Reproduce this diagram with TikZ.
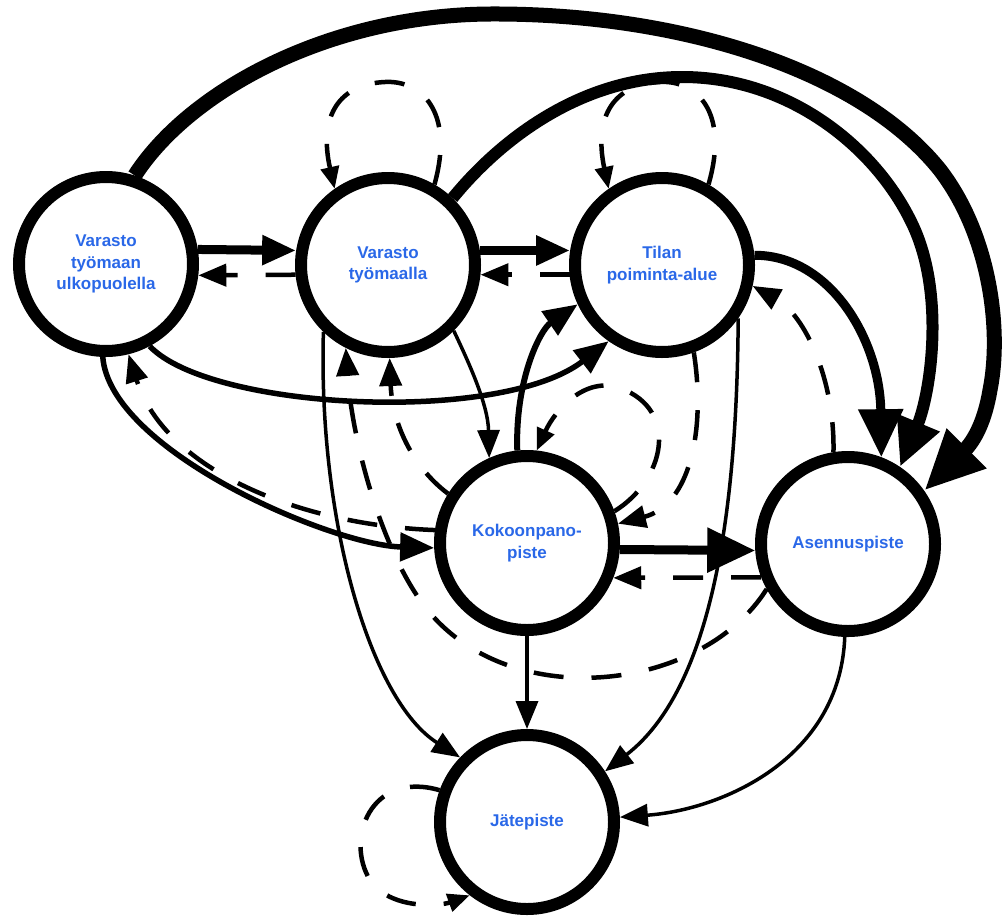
\documentclass[tikz,border=0pt]{standalone}
\usepackage{fontspec}
\setmainfont{Liberation Sans}
\usetikzlibrary{arrows.meta}
\definecolor{labelblue}{RGB}{42,104,232}
\begin{document}
\begin{tikzpicture}[x=1pt,y=-1pt,
  place/.style={circle,draw=black,fill=white,line width=12pt,minimum size=174pt,inner sep=0pt,
    text=labelblue,align=center,font=\fontsize{17}{21.5}\selectfont\bfseries},
  link/.style={line width=#1},
  dashlink/.style={line width=4.5pt,dash pattern=on 30pt off 28pt},
  tipXL/.style={-{Triangle[length=60pt,width=52pt]}},
  tipL/.style={-{Triangle[length=48pt,width=43pt]}},
  tipM/.style={-{Triangle[length=34pt,width=28pt]}},
  tipS/.style={-{Triangle[length=28pt,width=22pt]}},
  tipXS/.style={-{Triangle[length=22pt,width=18pt]}}
]
\useasboundingbox (0,0) rectangle (1003,916);

% places
\node[place] (A) at (106,264) {Varasto\\työmaan\\ulkopuolella};
\node[place] (B) at (388,265) {Varasto\\työmaalla};
\node[place] (C) at (662,265) {Tilan\\poiminta-alue};
\node[place] (D) at (527,543) {Kokoonpano-\\piste};
\node[place] (E) at (848,544) {Asennuspiste};
\node[place] (F) at (527,822) {Jätepiste};

% straight flows between neighbours
\draw[link=9pt,tipM] (A.9) -- (B.171);
\draw[dashlink,tipS] (B.186) -- (A.-7);
\draw[link=9pt,tipM] (B.9) -- (C.171);
\draw[dashlink,tipS] (C.186) -- (B.-6);
\draw[link=9pt,tipL] (D.-4) -- (E.184);
\draw[dashlink,tipS] (E.201) -- (D.-22);
\draw[link=3.5pt,tipS] (D.-90) -- (F.90);

% heavy arcs into the installation point
\draw[link=15pt,tipXL] (A.72) .. controls (190,90) and (330,15) .. (490,14)
  .. controls (680,13) and (860,70) .. (940,170)
  .. controls (990,235) and (1002,330) .. (990,390)
  .. controls (985,420) and (975,440) .. (E.35);
\draw[link=12pt,tipL] (B.46) .. controls (500,140) and (580,78) .. (680,77)
  .. controls (790,76) and (880,150) .. (915,230)
  .. controls (945,300) and (930,395) .. (E.56);
\draw[link=9pt,tipL] (C.6) .. controls (830,255) and (880,340) .. (E.69);

% curved solid flows
\draw[link=5.5pt,tipM] (A.-62) .. controls (210,410) and (500,425) .. (C.-125);
\draw[link=6pt,tipM] (D.96) .. controls (515,380) and (540,330) .. (C.-155);
\draw[link=5.5pt,tipM] (A.-92) .. controls (110,450) and (330,545) .. (D.183);
\draw[link=3.5pt,tipS] (B.-45) .. controls (470,365) and (488,405) .. (D.114);
\draw[link=3.5pt,tipS] (B.-134) .. controls (318,520) and (370,700) .. (F.136);
\draw[link=3.5pt,tipS] (C.-35) .. controls (737,520) and (710,690) .. (F.33);
\draw[link=3.5pt,tipS] (E.-92) .. controls (840,760) and (720,810) .. (F.3);

% dashed return flows
\draw[dashlink,tipS] (E.99) .. controls (835,380) and (805,315) .. (C.-13);
\draw[dashlink,tipS] (C.-70) .. controls (706,430) and (690,505) .. (D.12);
\draw[dashlink,tipS] (D.172) .. controls (300,525) and (165,470) .. (A.-76);
\draw[dashlink,tipS] (D.148) .. controls (410,465) and (392,420) .. (B.-89);
\draw[dashlink,tipS] (E.209) .. controls (700,695) and (500,715) .. (420,600)
  .. controls (380,543) and (352,440) .. (B.-117);

% self loops
\draw[dashlink,tipXS] (B.60) .. controls (455,110) and (420,80) .. (385,82)
  .. controls (340,84) and (318,115) .. (B.125);
\draw[dashlink,tipXS] (C.60) .. controls (730,110) and (695,80) .. (660,82)
  .. controls (615,84) and (593,115) .. (C.125);
\draw[dashlink,tipXS] (D.20) .. controls (665,480) and (680,410) .. (620,388)
  .. controls (585,376) and (555,410) .. (D.84);
\draw[dashlink,tipXS] (F.160) .. controls (370,770) and (345,840) .. (370,880)
  .. controls (390,910) and (440,906) .. (F.232);
\end{tikzpicture}
\end{document}
